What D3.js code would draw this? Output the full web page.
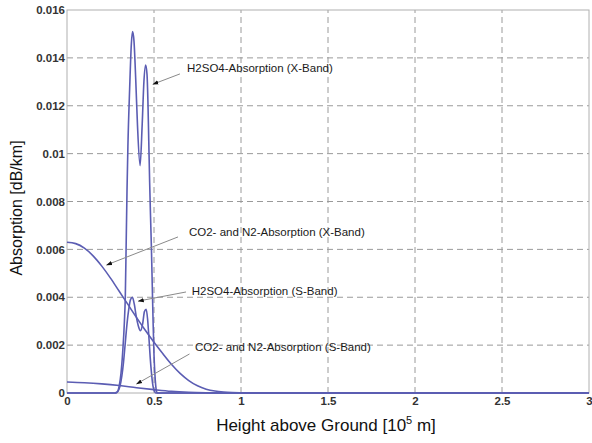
<!DOCTYPE html>
<html>
<head>
<meta charset="utf-8">
<script src="https://cdn.jsdelivr.net/npm/d3@7/dist/d3.min.js"></script>
<style>
  html, body { margin: 0; padding: 0; background: #fff; }
  svg { display: block; }
</style>
</head>
<body>
<svg id="chart" width="592" height="443"></svg>
<script>
// ---- data ----
const xTicks = [0, 0.5, 1, 1.5, 2, 2.5, 3];
const xTickLabels = ["0", "0.5", "1", "1.5", "2", "2.5", "3"];
const yTicks = [0, 0.002, 0.004, 0.006, 0.008, 0.01, 0.012, 0.014, 0.016];
const yTickLabels = ["0", "0.002", "0.004", "0.006", "0.008", "0.01", "0.012", "0.014", "0.016"];

const h2so4XHeight = [0, 0.28, 0.29, 0.30, 0.31, 0.32, 0.33, 0.335, 0.34, 0.345, 0.35, 0.36, 0.37, 0.377, 0.385, 0.395, 0.405, 0.42, 0.432, 0.442, 0.452, 0.46, 0.465, 0.47, 0.475, 0.48, 0.485, 0.49, 0.495, 0.50, 0.505, 0.51, 0.515, 0.52, 3];
const h2so4XValue  = [0, 0, 0.00005, 0.0003, 0.0008, 0.0017, 0.0030, 0.0040, 0.0062, 0.0085, 0.0103, 0.0127, 0.0146, 0.0151, 0.0147, 0.0131, 0.0112, 0.0095, 0.0112, 0.0130, 0.0137, 0.0133, 0.0122, 0.0105, 0.0088, 0.0074, 0.0061, 0.0045, 0.0029, 0.0016, 0.0008, 0.0003, 0.00005, 0, 0];

const h2so4SHeight = [0, 0.275, 0.285, 0.295, 0.305, 0.315, 0.325, 0.335, 0.345, 0.355, 0.365, 0.376, 0.387, 0.398, 0.41, 0.422, 0.435, 0.445, 0.455, 0.463, 0.47, 0.478, 0.486, 0.494, 0.502, 0.51, 3];
const h2so4SValue  = [0, 0, 0.00003, 0.0001, 0.0003, 0.0007, 0.0013, 0.0021, 0.0029, 0.0035, 0.0039, 0.0040, 0.0037, 0.0032, 0.0028, 0.0026, 0.0029, 0.0034, 0.0035, 0.0031, 0.0024, 0.0015, 0.0008, 0.0003, 0.00008, 0, 0];

const co2XHeight = [0, 0.05, 0.1, 0.15, 0.2, 0.25, 0.3, 0.35, 0.4, 0.45, 0.5, 0.55, 0.6, 0.65, 0.7, 0.75, 0.8, 0.85, 0.9, 0.95, 1.0, 1.1, 3];
const co2XValue  = [0.0063, 0.00624, 0.00605, 0.00573, 0.0053, 0.0048, 0.00425, 0.0037, 0.00315, 0.00262, 0.00212, 0.00165, 0.0012, 0.00082, 0.00052, 0.0003, 0.00016, 0.00008, 0.00004, 0.00002, 0.00001, 0, 0];

const co2SHeight = [0, 0.1, 0.2, 0.3, 0.4, 0.5, 0.6, 0.7, 0.8, 0.9, 3];
const co2SValue  = [0.00046, 0.00043, 0.00038, 0.00031, 0.00022, 0.00014, 0.00007, 0.00003, 0.00001, 0, 0];

const annLabels = ["H2SO4-Absorption (X-Band)", "CO2- and N2-Absorption (X-Band)", "H2SO4-Absorption (S-Band)", "CO2- and N2-Absorption (S-Band)"];
const annTextX = [0.69, 0.701, 0.717, 0.736];
const annTextY = [0.01358, 0.00673, 0.00427, 0.00193];
const annTailX = [0.649, 0.638, 0.684, 0.704];
const annTailY = [0.01333, 0.00652, 0.00422, 0.00163];
const annTipX  = [0.494, 0.228, 0.41, 0.40];
const annTipY  = [0.0129, 0.00535, 0.00384, 0.00038];

// ---- layout ----
const svg = d3.select("#chart");
const margin = { left: 67, right: 3, top: 10, bottom: 50 };
const W = 592, H = 443;
const x = d3.scaleLinear().domain([0, 3]).range([margin.left, W - margin.right]);
const y = d3.scaleLinear().domain([0, 0.016]).range([H - margin.bottom, margin.top]);

const lineColor = "#5b5db3";
const font = "'Liberation Sans', Arial, sans-serif";

// grid
const g = svg.append("g");
g.selectAll("line.gx").data(xTicks.slice(1, -1)).enter().append("line")
  .attr("x1", d => x(d)).attr("x2", d => x(d))
  .attr("y1", y(0)).attr("y2", y(0.016))
  .attr("stroke", "#9a9a9a").attr("stroke-width", 1).attr("stroke-dasharray", "6,4");
g.selectAll("line.gy").data(yTicks.slice(1, -1)).enter().append("line")
  .attr("x1", x(0)).attr("x2", x(3))
  .attr("y1", d => y(d)).attr("y2", d => y(d))
  .attr("stroke", "#9a9a9a").attr("stroke-width", 1).attr("stroke-dasharray", "6,4");

// frame
svg.append("rect")
  .attr("x", x(0)).attr("y", y(0.016))
  .attr("width", x(3) - x(0)).attr("height", y(0) - y(0.016))
  .attr("fill", "none").attr("stroke", "#b0b0b0").attr("stroke-width", 1);

// axes
const xAxis = d3.axisBottom(x).tickValues(xTicks).tickFormat((d, i) => xTickLabels[i]).tickSize(0).tickPadding(4);
const yAxis = d3.axisLeft(y).tickValues(yTicks).tickFormat((d, i) => yTickLabels[i]).tickSize(0).tickPadding(2);
const xa = svg.append("g").attr("transform", `translate(0,${y(0)})`).call(xAxis);
const ya = svg.append("g").attr("transform", `translate(${x(0)},0)`).call(yAxis);
[xa, ya].forEach(a => {
  a.select(".domain").remove();
  a.selectAll("text").attr("font-family", font).attr("font-size", "11.5px")
    .attr("font-weight", "bold").attr("fill", "#333");
});

// curves
const line = d3.line().x(d => x(d[0])).y(d => y(d[1])).curve(d3.curveMonotoneX);
const series = [
  [co2XHeight, co2XValue],
  [co2SHeight, co2SValue],
  [h2so4SHeight, h2so4SValue],
  [h2so4XHeight, h2so4XValue]
];
series.forEach(([hs, vs]) => {
  svg.append("path")
    .datum(hs.map((h, i) => [h, vs[i]]))
    .attr("d", line)
    .attr("fill", "none")
    .attr("stroke", lineColor)
    .attr("stroke-width", 1.6)
    .attr("stroke-linejoin", "round");
});

// annotations
const defs = svg.append("defs");
defs.append("marker").attr("id", "arr")
  .attr("viewBox", "0 0 10 10").attr("refX", 9).attr("refY", 5)
  .attr("markerWidth", 6).attr("markerHeight", 6).attr("orient", "auto")
  .append("path").attr("d", "M0,1.5 L10,5 L0,8.5 Z").attr("fill", "#111");

annLabels.forEach((t, i) => {
  svg.append("line")
    .attr("x1", x(annTailX[i])).attr("y1", y(annTailY[i]))
    .attr("x2", x(annTipX[i])).attr("y2", y(annTipY[i]))
    .attr("stroke", "#8a8a8a").attr("stroke-width", 1)
    .attr("marker-end", "url(#arr)");
  svg.append("text")
    .attr("x", x(annTextX[i])).attr("y", y(annTextY[i]))
    .attr("dy", "0.35em")
    .attr("font-family", font).attr("font-size", "11.5px")
    .attr("fill", "#1a1a1a")
    .text(t);
});

// axis titles
const xt = svg.append("text")
  .attr("x", 326).attr("y", 431)
  .attr("text-anchor", "middle")
  .attr("font-family", font).attr("font-size", "17px").attr("fill", "#111");
xt.append("tspan").text("Height above Ground [10");
xt.append("tspan").attr("dy", "-7").attr("font-size", "11px").text("5");
xt.append("tspan").attr("dy", "7").text(" m]");

svg.append("text")
  .attr("transform", `translate(22,208) rotate(-90)`)
  .attr("text-anchor", "middle")
  .attr("font-family", font).attr("font-size", "16px").attr("fill", "#111")
  .text("Absorption [dB/km]");
</script>
</body>
</html>
